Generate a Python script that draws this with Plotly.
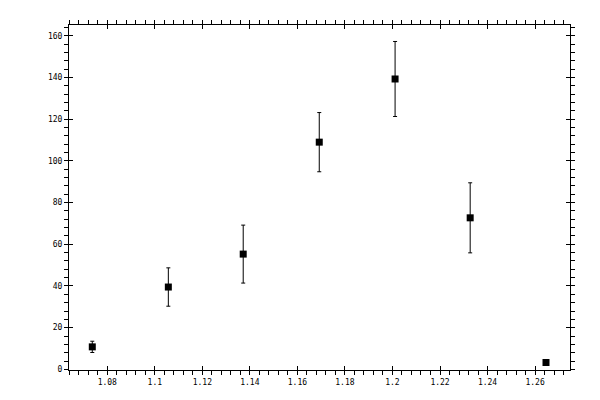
import plotly.graph_objects as go

x_vals = [1.0737, 1.1057, 1.1372, 1.1692, 1.2011, 1.2327, 1.2646]
y_vals = [10.8, 39.5, 55.3, 109.0, 139.3, 72.7, 3.3]
y_err = [2.7, 9.2, 13.9, 14.2, 18.0, 16.8, 0.0]

x_range = [1.0639, 1.2747]
y_range = [-0.3, 165.2]

font = dict(family="DejaVu Sans Mono", size=8, color="black")

fig = go.Figure()
fig.add_trace(go.Scatter(
    x=x_vals, y=y_vals, mode="markers",
    marker=dict(symbol="square", size=7, color="black"),
    error_y=dict(type="data", array=y_err, visible=True, color="black",
                 thickness=1, width=2),
    showlegend=False,
))
# invisible trace on overlay axes to give inside part of major ticks
fig.add_trace(go.Scatter(x=[x_vals[0]], y=[y_vals[0]], xaxis="x2", yaxis="y2",
                         mode="markers", marker=dict(opacity=0), showlegend=False,
                         hoverinfo="skip"))

common = dict(showgrid=False, zeroline=False, linecolor="black", linewidth=1,
              tickcolor="black", tickwidth=1, tickfont=font)

fig.update_layout(
    width=600, height=400,
    margin=dict(l=61, r=38, t=12, b=38),
    paper_bgcolor="white", plot_bgcolor="white",
    xaxis=dict(range=x_range, dtick=0.02, tick0=1.0, ticks="outside", ticklen=4,
               showline=True, mirror="allticks",
               minor=dict(dtick=0.004, ticks="outside", ticklen=4, tickcolor="black", tickwidth=1),
               tickformat="~g", **common),
    yaxis=dict(range=y_range, dtick=20, tick0=0, ticks="outside", ticklen=4,
               showline=True, mirror="allticks",
               minor=dict(dtick=4, ticks="outside", ticklen=4, tickcolor="black", tickwidth=1),
               **common),
    xaxis2=dict(range=x_range, dtick=0.02, tick0=1.0, ticks="inside", ticklen=4,
                overlaying="x", mirror="ticks", showline=False, showticklabels=False,
                showgrid=False, zeroline=False, tickcolor="black", tickwidth=1),
    yaxis2=dict(range=y_range, dtick=20, tick0=0, ticks="inside", ticklen=4,
                overlaying="y", mirror="ticks", showline=False, showticklabels=False,
                showgrid=False, zeroline=False, tickcolor="black", tickwidth=1),
)

fig.write_html("out.html")
